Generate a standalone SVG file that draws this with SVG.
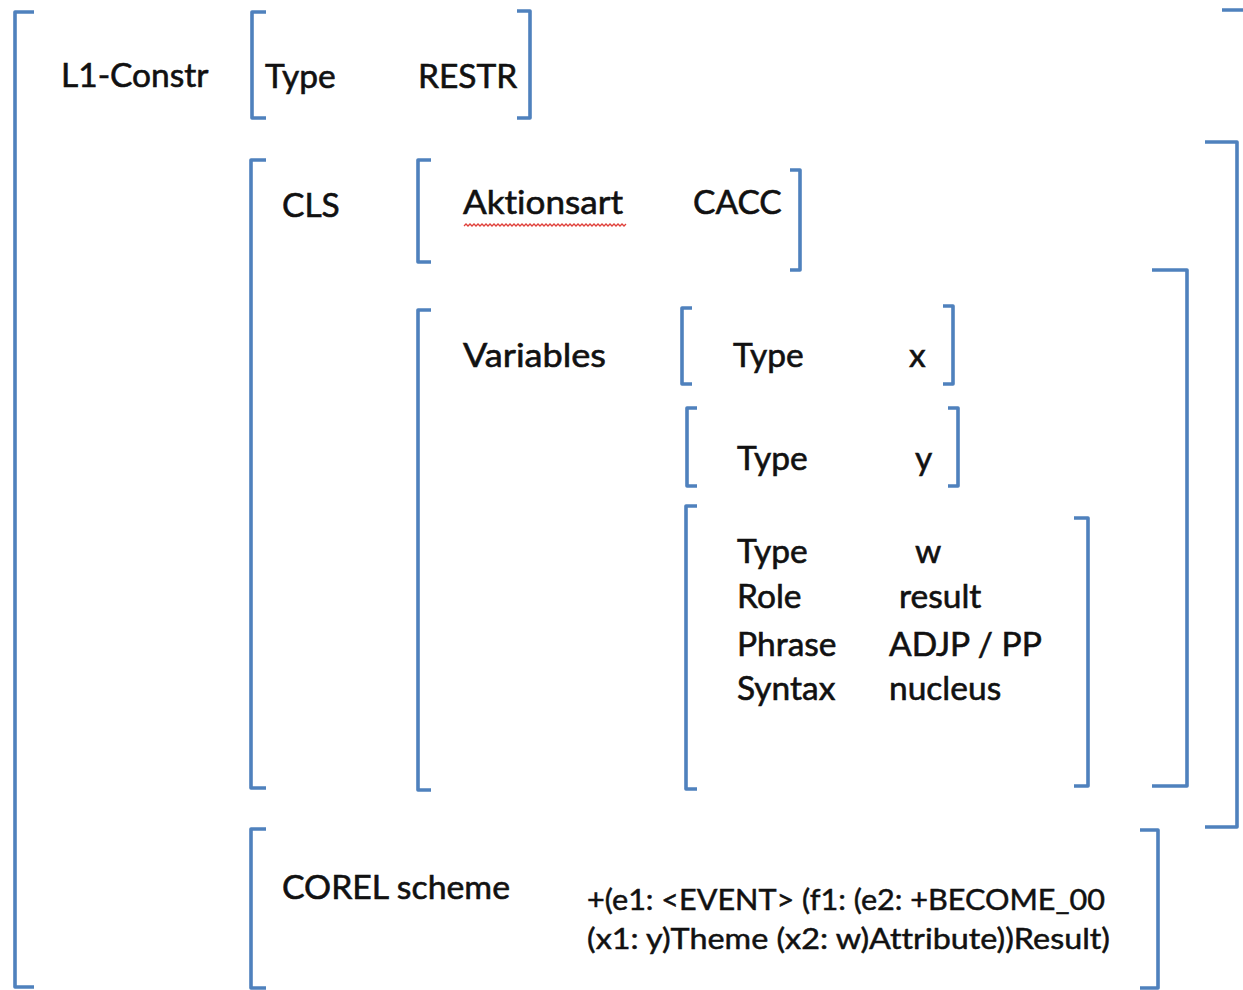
<svg xmlns="http://www.w3.org/2000/svg" width="1243" height="990" viewBox="0 0 1243 990">
<style>
.br{fill:none;stroke:#4f81bd;stroke-width:3.6;stroke-linejoin:round;stroke-linecap:butt}
.t{font-family:Lato,"Open Sans","Liberation Sans",sans-serif;font-size:33.5px;fill:#111;stroke:#111;stroke-width:0.6;font-variant-ligatures:none}
.s{font-family:Lato,"Open Sans","Liberation Sans",sans-serif;font-size:29px;fill:#111;stroke:#111;stroke-width:0.5;font-variant-ligatures:none}
.wavy{fill:none;stroke:#e0403a;stroke-width:1.3}
</style>
<rect width="1243" height="990" fill="#fff"/>
<g id="l1-constr">
<path class="br" d="M34,12 H15 V987 H34"/>
<path class="br" d="M1222,10 H1246 V990"/>
<text class="t" x="61" y="87">L1-Constr</text>
</g>
<g id="type-restr">
<path class="br" d="M266,12 H252 V118 H266"/>
<path class="br" d="M517,11 H530 V118 H517"/>
<text class="t" x="265" y="88">Type</text>
<text class="t" x="418" y="88">RESTR</text>
</g>
<g id="cls">
<path class="br" d="M266,160 H251 V788 H266"/>
<path class="br" d="M1205,142 H1237 V827 H1205"/>
<text class="t" x="282" y="217">CLS</text>
</g>
<g id="aktionsart">
<path class="br" d="M431,160 H418 V262 H431"/>
<path class="br" d="M790,170 H800 V270 H790"/>
<text class="t" x="463" y="214" textLength="160" lengthAdjust="spacingAndGlyphs">Aktionsart</text>
<path class="wavy" d="M464,226 l2,-2 l2,2 l2,-2 l2,2 l2,-2 l2,2 l2,-2 l2,2 l2,-2 l2,2 l2,-2 l2,2 l2,-2 l2,2 l2,-2 l2,2 l2,-2 l2,2 l2,-2 l2,2 l2,-2 l2,2 l2,-2 l2,2 l2,-2 l2,2 l2,-2 l2,2 l2,-2 l2,2 l2,-2 l2,2 l2,-2 l2,2 l2,-2 l2,2 l2,-2 l2,2 l2,-2 l2,2 l2,-2 l2,2 l2,-2 l2,2 l2,-2 l2,2 l2,-2 l2,2 l2,-2 l2,2 l2,-2 l2,2 l2,-2 l2,2 l2,-2 l2,2 l2,-2 l2,2 l2,-2 l2,2 l2,-2 l2,2 l2,-2 l2,2 l2,-2 l2,2 l2,-2 l2,2 l2,-2 l2,2 l2,-2 l2,2 l2,-2 l2,2 l2,-2 l2,2 l2,-2 l2,2 l2,-2 l2,2 l2,-2"/>
<text class="t" x="693" y="214">CACC</text>
</g>
<g id="variables">
<path class="br" d="M431,310 H418 V790 H431"/>
<path class="br" d="M1152,270 H1187 V786 H1152"/>
<text class="t" x="463" y="367" textLength="143" lengthAdjust="spacingAndGlyphs">Variables</text>
</g>
<g id="var-x">
<path class="br" d="M692,308 H682 V384 H692"/>
<path class="br" d="M943,306 H953 V384 H943"/>
<text class="t" x="733" y="367">Type</text>
<text class="t" x="909" y="367">x</text>
</g>
<g id="var-y">
<path class="br" d="M697,408 H687 V486 H697"/>
<path class="br" d="M948,408 H958 V486 H948"/>
<text class="t" x="737" y="470">Type</text>
<text class="t" x="915" y="470">y</text>
</g>
<g id="var-w">
<path class="br" d="M697,506 H686 V789 H697"/>
<path class="br" d="M1074,518 H1088 V786 H1074"/>
<text class="t" x="737" y="563">Type</text>
<text class="t" x="915" y="563">w</text>
<text class="t" x="737" y="608">Role</text>
<text class="t" x="899" y="608">result</text>
<text class="t" x="737" y="656">Phrase</text>
<text class="t" x="889" y="656">ADJP / PP</text>
<text class="t" x="737" y="700">Syntax</text>
<text class="t" x="889" y="700">nucleus</text>
</g>
<g id="corel">
<path class="br" d="M266,829 H251 V988 H266"/>
<path class="br" d="M1140,830 H1158 V988 H1140"/>
<text class="t" x="282" y="899" textLength="228" lengthAdjust="spacingAndGlyphs">COREL scheme</text>
<text class="s" x="587" y="910" textLength="518" lengthAdjust="spacingAndGlyphs">+(e1: &lt;EVENT&gt; (f1: (e2: +BECOME_00</text>
<text class="s" x="587" y="949" textLength="523" lengthAdjust="spacingAndGlyphs">(x1: y)Theme (x2: w)Attribute))Result)</text>
</g>
<g id="connectors"></g>
</svg>
